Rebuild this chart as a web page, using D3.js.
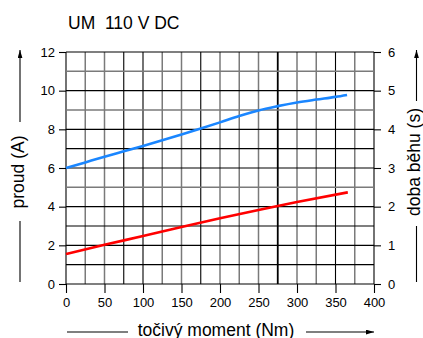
<!DOCTYPE html>
<html>
<head>
<meta charset="utf-8">
<script src="https://cdn.jsdelivr.net/npm/d3@7"></script>
<style>
  html, body { margin: 0; padding: 0; background: #fff; }
  svg { display: block; font-family: "Liberation Sans", Arial, sans-serif; }
</style>
</head>
<body>
<div id="chart"></div>
<script>
const title = 'UM  110 V DC';
const xLabel = 'točivý moment (Nm)';
const yLeftLabel = 'proud (A)';
const yRightLabel = 'doba běhu (s)';

const xTicks = [0, 50, 100, 150, 200, 250, 300, 350, 400];
const yLeftTicks = [0, 2, 4, 6, 8, 10, 12];
const yRightTicks = [0, 1, 2, 3, 4, 5, 6];

// torque (Nm) and current (A)
const blueTorque = [0, 25, 50, 75, 100, 125, 150, 175, 200, 225, 250, 275, 300, 325, 350, 365];
const blueValues = [6.0, 6.29, 6.58, 6.86, 7.14, 7.43, 7.73, 8.04, 8.36, 8.69, 8.98, 9.2, 9.39, 9.54, 9.68, 9.78];

const redTorque = [0, 50, 100, 150, 200, 250, 300, 366];
const redValues = [1.55, 2.03, 2.48, 2.95, 3.4, 3.83, 4.24, 4.74];

const width = 423, height = 338;
const margin = { top: 52, right: 49, bottom: 54, left: 66 };
const innerW = width - margin.left - margin.right;
const innerH = height - margin.top - margin.bottom;

// grid lines that look lighter in the original
const grayV = new Set([25, 50, 125, 150, 200, 225, 250, 300, 325, 375]);
const grayH = new Set([11, 9, 5]);

const svg = d3.select('#chart').append('svg')
  .attr('width', width)
  .attr('height', height);

const g = svg.append('g').attr('transform', `translate(${margin.left},${margin.top})`);

const x = d3.scaleLinear().domain([0, 400]).range([0, innerW]);
const yL = d3.scaleLinear().domain([0, 12]).range([innerH, 0]);
const yR = d3.scaleLinear().domain([0, 6]).range([innerH, 0]);

// grid
g.append('g').selectAll('line')
  .data(d3.range(0, 401, 25))
  .enter().append('line')
  .attr('x1', d => x(d)).attr('x2', d => x(d))
  .attr('y1', 0).attr('y2', innerH)
  .attr('stroke', d => grayV.has(d) ? '#7a7a7a' : '#000')
  .attr('stroke-width', d => d === 275 ? 1.8 : (grayV.has(d) ? 1.5 : 1.1));

g.append('g').selectAll('line')
  .data(d3.range(0, 13, 1))
  .enter().append('line')
  .attr('x1', 0).attr('x2', innerW)
  .attr('y1', d => yL(d)).attr('y2', d => yL(d))
  .attr('stroke', d => grayH.has(d) ? '#7a7a7a' : '#000')
  .attr('stroke-width', d => grayH.has(d) ? 1.5 : 1.1);

// axes
const styleAxis = sel => {
  sel.select('.domain').remove();
  sel.selectAll('.tick line').attr('stroke', '#000').attr('stroke-width', 1.1);
  sel.selectAll('.tick text').attr('fill', '#000')
    .style('font-family', '"Liberation Sans", Arial, sans-serif')
    .style('font-size', '13px');
};

g.append('g')
  .attr('transform', `translate(0,${innerH})`)
  .call(d3.axisBottom(x).tickValues(xTicks).tickSize(9).tickPadding(5))
  .call(styleAxis);

g.append('g')
  .call(d3.axisLeft(yL).tickValues(yLeftTicks).tickSize(7).tickPadding(4))
  .call(styleAxis);

g.append('g')
  .attr('transform', `translate(${innerW},0)`)
  .call(d3.axisRight(yR).tickValues(yRightTicks).tickFormat(d3.format('d')).tickSize(7).tickPadding(7))
  .call(styleAxis);

// series
const line = d3.line().curve(d3.curveMonotoneX)
  .x(d => x(d[0])).y(d => yL(d[1]));

g.append('path')
  .datum(blueTorque.map((t, i) => [t, blueValues[i]]))
  .attr('d', line)
  .attr('fill', 'none')
  .attr('stroke', '#1a86ff')
  .attr('stroke-width', 2.6);

g.append('path')
  .datum(redTorque.map((t, i) => [t, redValues[i]]))
  .attr('d', line)
  .attr('fill', 'none')
  .attr('stroke', '#ff0000')
  .attr('stroke-width', 2.6);

// title
svg.append('text')
  .attr('x', 68).attr('y', 29)
  .attr('font-size', '17.5px')
  .attr('fill', '#000')
  .style('white-space', 'pre')
  .text(title);

// arrowhead marker
const defs = svg.append('defs');
defs.append('marker')
  .attr('id', 'arrow')
  .attr('viewBox', '0 0 10 6')
  .attr('refX', 10).attr('refY', 3)
  .attr('markerWidth', 8).attr('markerHeight', 5)
  .attr('markerUnits', 'userSpaceOnUse')
  .attr('orient', 'auto')
  .append('path').attr('d', 'M0,0 L10,3 L0,6 Z').attr('fill', '#000');

// x axis label with arrow
svg.append('text')
  .attr('x', 216).attr('y', 336)
  .attr('text-anchor', 'middle')
  .attr('font-size', '17.5px')
  .attr('fill', '#000')
  .text(xLabel);
svg.append('line')
  .attr('x1', 67).attr('x2', 128).attr('y1', 332).attr('y2', 332)
  .attr('stroke', '#000').attr('stroke-width', 1.1);
svg.append('line')
  .attr('x1', 306).attr('x2', 374).attr('y1', 332).attr('y2', 332)
  .attr('stroke', '#000').attr('stroke-width', 1.1)
  .attr('marker-end', 'url(#arrow)');

// left y label
svg.append('text')
  .attr('transform', 'translate(24,172) rotate(-90)')
  .attr('text-anchor', 'middle')
  .attr('font-size', '17.5px')
  .attr('fill', '#000')
  .text(yLeftLabel);
svg.append('line')
  .attr('x1', 20).attr('x2', 20).attr('y1', 122).attr('y2', 50)
  .attr('stroke', '#000').attr('stroke-width', 1.1)
  .attr('marker-end', 'url(#arrow)');
svg.append('line')
  .attr('x1', 20).attr('x2', 20).attr('y1', 221).attr('y2', 282)
  .attr('stroke', '#000').attr('stroke-width', 1.1);

// right y label
svg.append('text')
  .attr('transform', 'translate(420,162) rotate(-90)')
  .attr('text-anchor', 'middle')
  .attr('font-size', '17.5px')
  .attr('fill', '#000')
  .text(yRightLabel);
svg.append('line')
  .attr('x1', 416.5).attr('x2', 416.5).attr('y1', 101).attr('y2', 50)
  .attr('stroke', '#000').attr('stroke-width', 1.1)
  .attr('marker-end', 'url(#arrow)');
svg.append('line')
  .attr('x1', 416.5).attr('x2', 416.5).attr('y1', 226).attr('y2', 282)
  .attr('stroke', '#000').attr('stroke-width', 1.1);
</script>
</body>
</html>
